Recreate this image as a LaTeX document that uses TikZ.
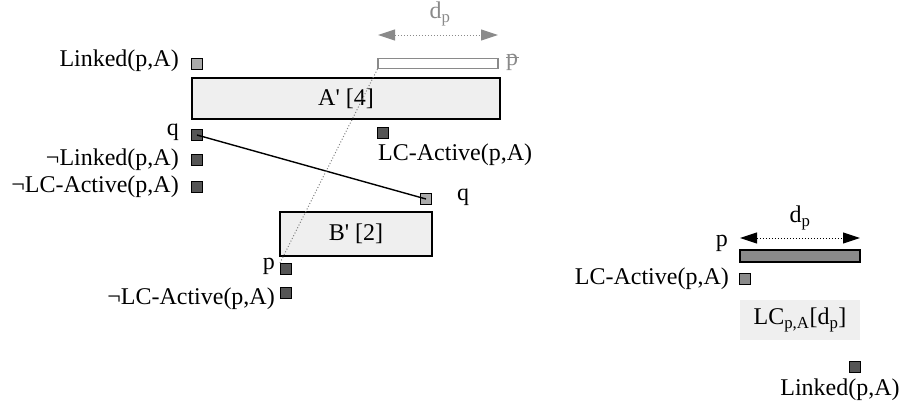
\documentclass[tikz,border=0pt]{standalone}
\usepackage{fontspec}
\setmainfont{Liberation Serif}
\usetikzlibrary{arrows.meta}

\definecolor{boxgray}{HTML}{EFEFEF}
\definecolor{litegray}{HTML}{AAAAAA}
\definecolor{midgray}{HTML}{8A8A8A}
\definecolor{darkgray}{HTML}{555555}

\newcommand{\pstrike}{\makebox[0pt][l]{\rule[0.3em]{0.55em}{0.05em}}p}

\tikzset{
  lbl/.style={font=\fontsize{24}{28}\selectfont, inner sep=0pt},
  sq/.style={draw, line width=1.1pt, minimum size=11pt, inner sep=0pt},
  litesq/.style={sq, fill=litegray},
  darksq/.style={sq, fill=darkgray},
  bigbox/.style={draw, line width=1.3pt, fill=boxgray, inner sep=0pt, lbl},
  span/.style={dotted, line width=1pt, {Triangle[length=17pt,width=11pt]}-{Triangle[length=17pt,width=11pt]}}
}

\begin{document}
\begin{tikzpicture}[x=1pt, y=-1pt]
  \useasboundingbox (0,0) rectangle (917,408);

  % Left part: boxes A' and B'
  \node[bigbox, minimum width=308pt, minimum height=41pt] (aBox) at (346,98.5) {A\textquotesingle{} [4]};
  \node[bigbox, minimum width=152pt, minimum height=44pt] (bBox) at (356,234) {B\textquotesingle{} [2]};

  % Removed p (grey, hollow)
  \node[draw=midgray, line width=1.2pt, fill=white, minimum width=120pt, minimum height=10pt, inner sep=0pt] (pOld) at (438,63.5) {};
  \node[lbl, text=midgray] (pOldLbl) at (512,62) {\pstrike};
  \coordinate (dpOldL) at (378,35);
  \coordinate (dpOldR) at (498,35);
  \draw[span, midgray] (dpOldL) -- (dpOldR);
  \node[lbl, text=midgray] (dpOldLbl) at (440,14) {d\textsubscript{p}};

  % Squares in front of A'
  \node[litesq] (linkA) at (197,64) {};
  \node[lbl, anchor=east] at (179,61) {Linked(p,A)};
  \node[darksq] (qA) at (197,135) {};
  \node[lbl, anchor=east] at (179,132) {q};
  \node[darksq] (nlinkA) at (197,160) {};
  \node[lbl, anchor=east] at (179,160) {¬Linked(p,A)};
  \node[darksq] (nlcaA) at (197,187) {};
  \node[lbl, anchor=east] at (179,187) {¬LC-Active(p,A)};
  \node[darksq] (lcaA) at (383,133) {};
  \node[lbl, anchor=west] at (378,155) {LC-Active(p,A)};

  % Squares around B'
  \node[litesq] (qB) at (426,199) {};
  \node[lbl] at (463,197) {q};
  \node[darksq] (pB) at (286,269) {};
  \node[lbl, anchor=east] at (275,266) {p};
  \node[darksq] (nlcaB) at (286,293) {};
  \node[lbl, anchor=east] at (275,299) {¬LC-Active(p,A)};

  % Connectors
  \draw[line width=1.4pt] (qA.center) -- (qB.center);
  \draw[dotted, line width=1pt, gray] (pB.north west) -- (pOld.south west);

  % Right part: the link contract
  \node[draw, line width=1.4pt, fill=midgray, minimum width=120pt, minimum height=12pt, inner sep=0pt] (pNew) at (800,256) {};
  \node[lbl, anchor=east] at (728,243) {p};
  \coordinate (dpL) at (740,238);
  \coordinate (dpR) at (860,238);
  \draw[span] (dpL) -- (dpR);
  \node[lbl] (dpLbl) at (800,218) {d\textsubscript{p}};
  \node[sq, fill=midgray] (lcaC) at (745,279) {};
  \node[lbl, anchor=east] at (729,279) {LC-Active(p,A)};
  \node[fill=boxgray, minimum width=120pt, minimum height=40pt, inner sep=0pt, lbl] (lcBox) at (800,320) {LC\textsubscript{p,A}[d\textsubscript{p}]};
  \node[darksq] (linkC) at (855,367) {};
  \node[lbl] at (840,390) {Linked(p,A)};
\end{tikzpicture}
\end{document}
